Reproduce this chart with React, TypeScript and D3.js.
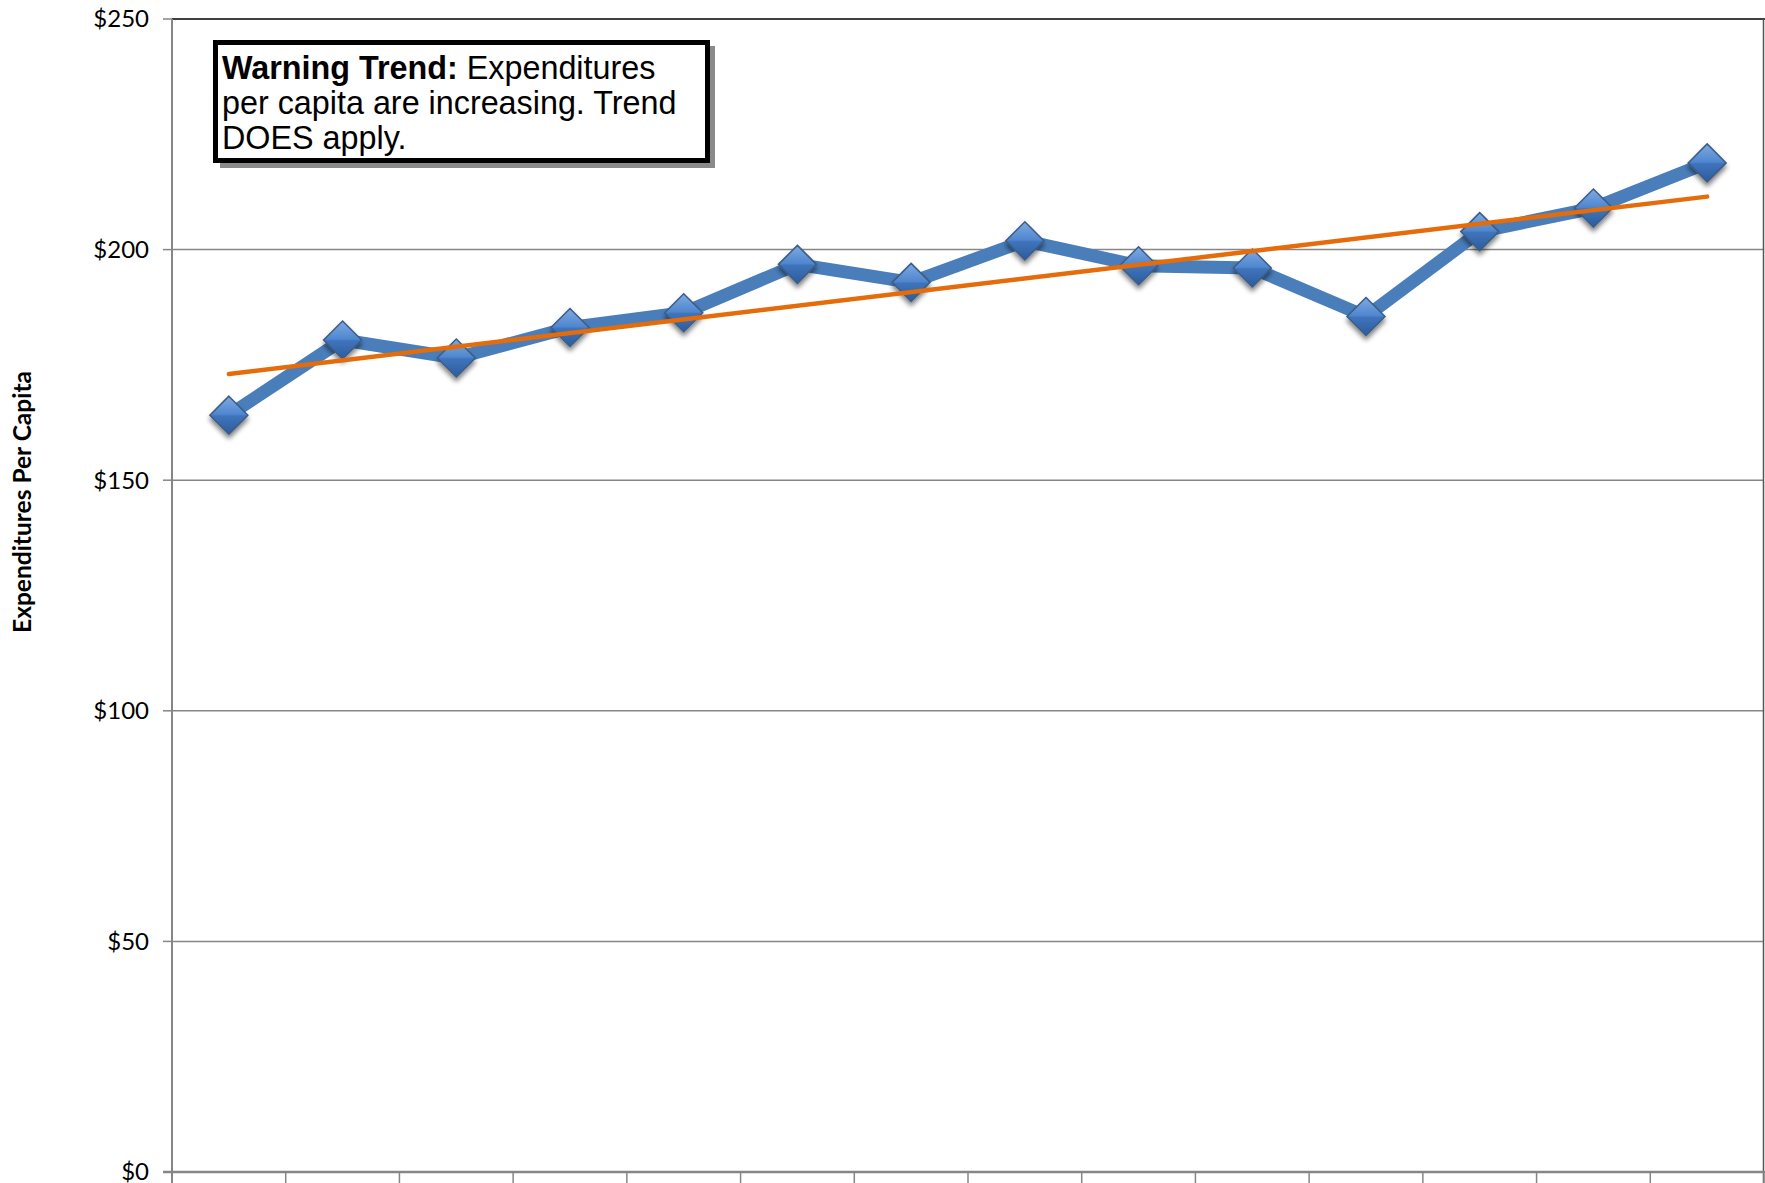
import React from "react";
import * as d3 from "d3";

const categories = ["1","2","3","4","5","6","7","8","9","10","11","12","13","14"];
const values = [164.1, 180.4, 176.5, 183.1, 186.3, 196.8, 192.9, 201.9, 196.5, 196.0, 185.5, 203.9, 209.0, 218.8];
const yTicks = [0, 50, 100, 150, 200, 250];

const W = 1765, H = 1183;
const M = { left: 172, right: 1, top: 19, bottom: 11 };

export default function App() {
  const x = d3.scaleBand().domain(categories).range([M.left, W - M.right]).padding(0);
  const y = d3.scaleLinear().domain([0, 250]).range([H - M.bottom, M.top]);
  const cx = (c: string) => (x(c) as number) + x.bandwidth() / 2;

  const line = d3.line<number>().x((_, i) => cx(categories[i])).y((v) => y(v));

  // linear trend
  const n = values.length;
  const xs = values.map((_, i) => i + 1);
  const mx = d3.mean(xs) as number;
  const my = d3.mean(values) as number;
  const sxy = d3.sum(xs.map((xi, i) => (xi - mx) * (values[i] - my)));
  const sxx = d3.sum(xs.map((xi) => (xi - mx) ** 2));
  const slope = sxy / sxx;
  const icpt = my - slope * mx;
  const t0 = icpt + slope * 1;
  const t1 = icpt + slope * n;

  const boundaries = [...categories.map((c) => x(c) as number), W - M.right];
  const ms = 19;

  return (
    <svg width={W} height={H} style={{ position: "absolute", left: 0, top: 0, background: "#fff" }}>
      <defs>
        <linearGradient id="dg" x1="0" y1="0" x2="0" y2="1">
          <stop offset="0" stopColor="#7EAAE2" />
          <stop offset="0.48" stopColor="#4F86CE" />
          <stop offset="0.52" stopColor="#3F74BC" />
          <stop offset="1" stopColor="#2D5C9C" />
        </linearGradient>
        <filter id="sh" x="-50%" y="-50%" width="200%" height="200%">
          <feGaussianBlur in="SourceAlpha" stdDeviation="2.5" />
          <feOffset dx="0" dy="4" result="b" />
          <feComponentTransfer>
            <feFuncA type="linear" slope="0.5" />
          </feComponentTransfer>
          <feMerge>
            <feMergeNode />
            <feMergeNode in="SourceGraphic" />
          </feMerge>
        </filter>
      </defs>

      {/* gridlines */}
      {yTicks.filter((t) => t > 0 && t < 250).map((t) => (
        <line key={t} x1={M.left} x2={W - M.right} y1={y(t)} y2={y(t)} stroke="#868686" strokeWidth={1.5} />
      ))}
      {/* top border */}
      <line x1={M.left} x2={W} y1={y(250)} y2={y(250)} stroke="#000" strokeWidth={1.5} />
      {/* right border */}
      <line x1={W - 1.5} x2={W - 1.5} y1={y(250)} y2={H} stroke="#555" strokeWidth={1.5} />

      {/* y axis */}
      <line x1={M.left} x2={M.left} y1={y(250)} y2={H} stroke="#868686" strokeWidth={2} />
      {yTicks.map((t) => (
        <g key={t}>
          <line x1={M.left - 9} x2={M.left} y1={y(t)} y2={y(t)} stroke="#868686" strokeWidth={1.5} />
          <text x={149} y={y(t)} dy="0.35em" textAnchor="end" fontFamily="Lato, 'Open Sans', sans-serif" fontSize={24} fill="#000">
            {"$" + t}
          </text>
        </g>
      ))}
      {/* x axis */}
      <line x1={M.left - 9} x2={W} y1={y(0)} y2={y(0)} stroke="#868686" strokeWidth={2.5} />
      {boundaries.map((b, i) => (
        <line key={i} x1={b} x2={b} y1={y(0)} y2={H} stroke="#868686" strokeWidth={1.5} />
      ))}

      {/* axis title */}
      <text transform={`translate(31,502) rotate(-90)`} textAnchor="middle" fontFamily="Lato, 'Open Sans', sans-serif" fontWeight="bold" fontSize={24.5} fill="#000">
        Expenditures Per Capita
      </text>

      {/* data line */}
      <path d={line(values) as string} fill="none" stroke="#4A7EBB" strokeWidth={13} strokeLinejoin="round" />

      {/* markers */}
      {values.map((v, i) => {
        const px = cx(categories[i]);
        const py = y(v);
        return (
          <path key={i} filter="url(#sh)" d={`M${px},${py - ms}L${px + ms},${py}L${px},${py + ms}L${px - ms},${py}Z`} fill="url(#dg)" stroke="#3B5C86" strokeWidth={1.5} />
        );
      })}

      {/* trend line */}
      <line x1={cx(categories[0])} y1={y(t0)} x2={cx(categories[n - 1])} y2={y(t1)} stroke="#E46C0A" strokeWidth={4.5} strokeLinecap="round" />

      {/* text box */}
      <rect x={220} y={46} width={495} height={122} fill="#8a8a8a" />
      <rect x={215.5} y={42.5} width={492} height={118} fill="#fff" stroke="#000" strokeWidth={5} />
      <g transform="translate(222,0) scale(0.965,1)">
        <text fontFamily="'Liberation Sans', Arial, sans-serif" fontSize={33.5} fill="#000">
          <tspan x={0} y={79}><tspan fontWeight="bold">Warning Trend:</tspan> Expenditures</tspan>
          <tspan x={0} y={114}>per capita are increasing. Trend</tspan>
          <tspan x={0} y={149}>DOES apply.</tspan>
        </text>
      </g>
    </svg>
  );
}
